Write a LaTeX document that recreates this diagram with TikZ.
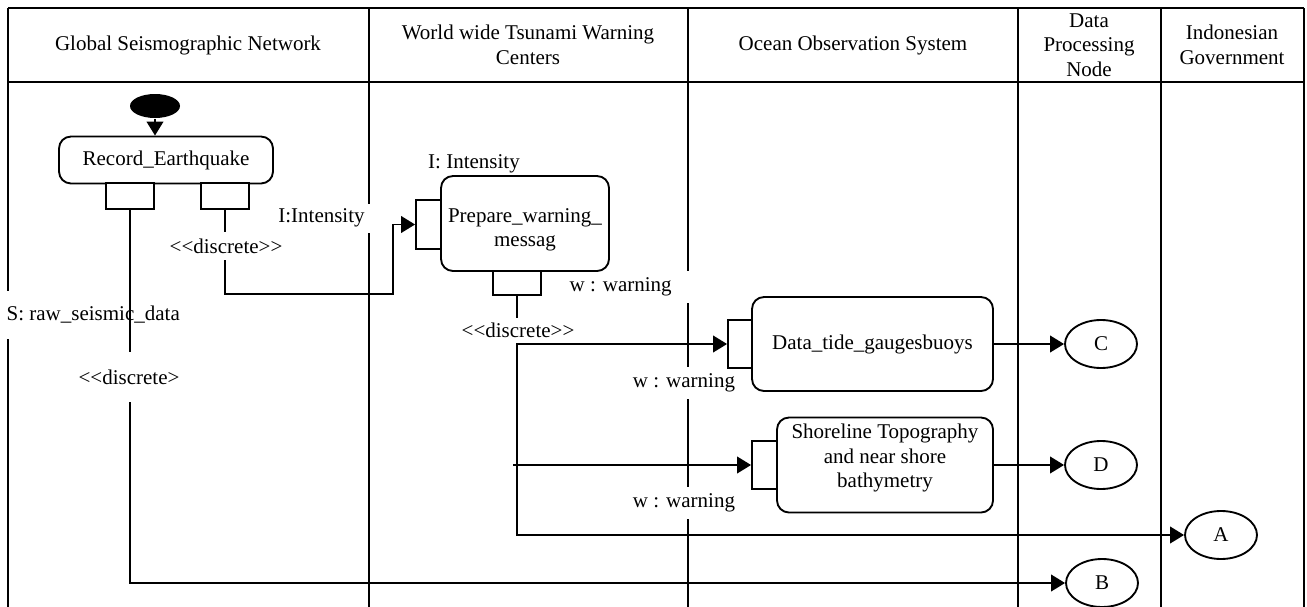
\documentclass[tikz,border=0pt]{standalone}
\usepackage{fontspec}
\setmainfont{Liberation Serif}
\usetikzlibrary{arrows.meta,shapes.geometric,calc}
\begin{document}
\begin{tikzpicture}[x=0.75pt,y=-0.75pt,line width=1.4pt,
  font=\fontsize{15.75}{18.4}\selectfont,
  act/.style={draw,rounded corners=9pt,inner sep=0pt},
  pinbox/.style={draw,fill=white,inner sep=0pt},
  conn/.style={-{Triangle[length=10.5pt,width=12.5pt]}},
  lbl/.style={fill=white,inner sep=2pt},
  endnode/.style={draw,ellipse,inner sep=0pt,minimum width=54pt,minimum height=36pt}]
\useasboundingbox (0,0) rectangle (1307,607);
% frame and lanes
\draw (8,8) -- (1304,8);
\draw (8,82) -- (1304,82);
\foreach \x in {8,369,688,1018,1161,1304} \draw (\x,8) -- (\x,607);
% headers
\node (h1) at (188,45) {Global Seismographic Network};
\node[align=center] (h2) at (528,45) {World wide Tsunami Warning\\Centers};
\node (h3) at (853,45) {Ocean Observation System};
\node[align=center] (h4) at (1089,45) {Data\\Processing\\Node};
\node[align=center] (h5) at (1232,45) {Indonesian\\Government};
% labels that cover lane lines
\node[lbl,anchor=west,minimum height=36pt] (sraw) at (3,315) {S: raw\_seismic\_data};
\node[lbl,inner xsep=4.5pt,minimum height=21.75pt] (intL) at (321.5,218) {I:Intensity};
\node[lbl,anchor=west,text width=90pt,align=flush left,minimum height=24pt] (w1) at (566,287) {w : warning};
\node[lbl,minimum height=24pt] (w2) at (684,383) {w : warning};
\node[lbl,minimum height=24pt] (w3) at (684,503) {w : warning};
% activities
\node[ellipse,fill=black,minimum width=37.5pt,minimum height=18pt,inner sep=0pt] (start) at (155,106) {};
\node[act,minimum width=160.5pt,minimum height=35.25pt] (rec) at (166,160) {Record\_Earthquake};
\node[pinbox,minimum width=36pt,minimum height=19.5pt] (recL) at (130,196) {};
\node[pinbox,minimum width=36pt,minimum height=19.5pt] (recR) at (225,196) {};
\node[act,minimum width=126pt,minimum height=71.25pt] (prep) at (525,223.5) {};
\node[align=center] (prept) at (525,230) {Prepare\_warning\_\\messag};
\node[pinbox,minimum width=18.75pt,minimum height=36.75pt] (prepIn) at (428.5,224.5) {};
\node[pinbox,minimum width=36pt,minimum height=18pt] (prepOut) at (517,283) {};
\node (intTop) at (474,164) {I: Intensity};
\node[act,minimum width=180.75pt,minimum height=70.5pt] (tide) at (872.5,344) {Data\_tide\_gaugesbuoys};
\node[pinbox,minimum width=18pt,minimum height=36pt] (tidePin) at (740,344) {};
\node[act,minimum width=162pt,minimum height=71.25pt] (shore) at (885,465) {};
\node[align=center] (shoret) at (885,458) {Shoreline Topography\\and near shore\\bathymetry};
\node[pinbox,minimum width=18.75pt,minimum height=36pt] (shorePin) at (764.5,465) {};
% final nodes
\node[endnode] (C) at (1101,344) {C};
\node[endnode] (D) at (1101,465) {D};
\node[endnode] (A) at (1221,535) {A};
\node[endnode] (B) at (1102,583) {B};
% connectors
\coordinate (k1) at (393,294);
\coordinate (brD) at ($(prepOut.south |- shorePin.west)+(-4,0)$);
\draw[conn] (start.south) -- (start.south |- rec.north);
\draw[conn] (recR.south) |- (k1) |- (prepIn.west);
\draw[conn] (recL.south) |- (B.west);
\draw[conn] (prepOut.south) |- (A.west);
\draw[conn] (prepOut.south |- tidePin.west) -- (tidePin.west);
\draw[conn] (brD) -- (shorePin.west);
\draw[conn] (tide.east) -- (C.west);
\draw[conn] (shore.east) -- (D.west);
% labels on connectors
\node[lbl,minimum height=21pt] (dI) at (226,246) {<\kern0pt<discrete>\kern0pt>};
\node[lbl,minimum height=37.5pt] (dS) at (129,377) {<\kern0pt<discrete>};
\node[lbl,minimum height=18.75pt] (dP) at (518,330.5) {<\kern0pt<discrete>\kern0pt>};
\end{tikzpicture}
\end{document}
